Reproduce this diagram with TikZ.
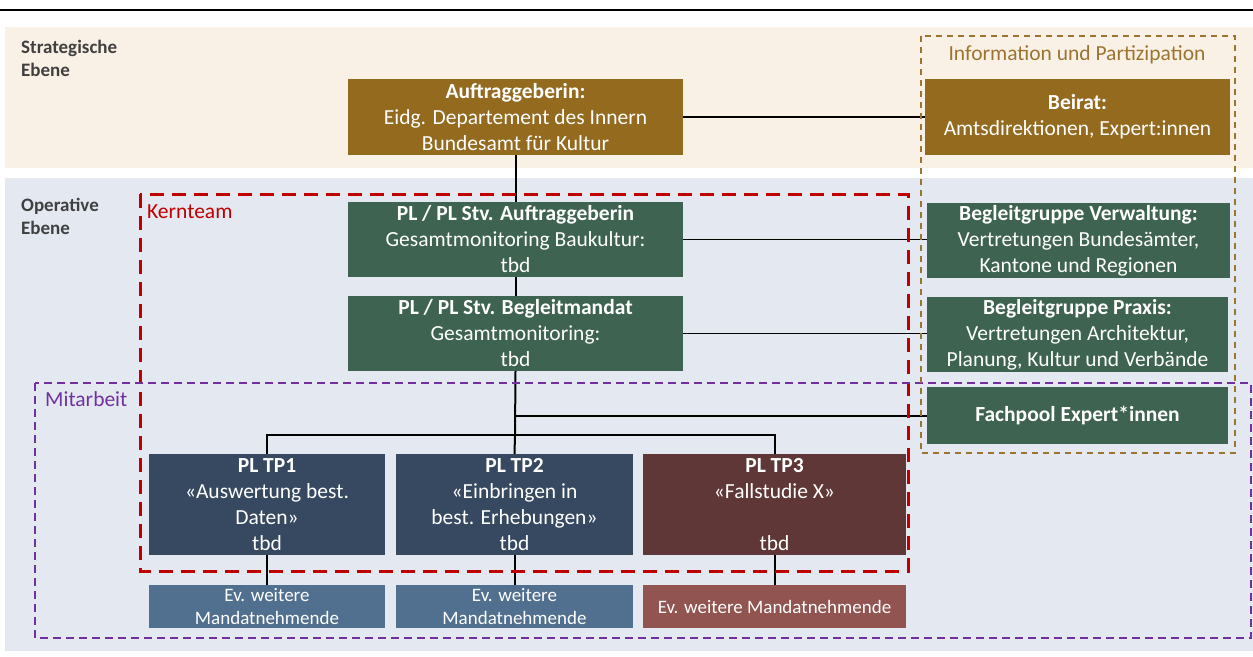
\documentclass[tikz,border=0pt]{standalone}
\usepackage{fontspec}
\setmainfont{Carlito}
\definecolor{bandA}{HTML}{FAF1E6}
\definecolor{bandB}{HTML}{E4E9F1}
\definecolor{gold}{HTML}{946A1F}
\definecolor{grn}{HTML}{3F6351}
\definecolor{navy}{HTML}{374960}
\definecolor{maroon}{HTML}{5E3736}
\definecolor{evblue}{HTML}{51708F}
\definecolor{evred}{HTML}{915450}
\definecolor{kred}{HTML}{C00000}
\definecolor{mpurple}{HTML}{7030A0}
\definecolor{ibrown}{HTML}{9C7430}
\definecolor{lgray}{HTML}{404040}
\begin{document}
\begin{tikzpicture}[x=1pt,y=-1pt,
  orgbox/.style={fill=#1, text=white, inner sep=0pt, align=center,
    font=\fontsize{21.5}{26}\selectfont},
  evbox/.style={fill=#1, text=white, inner sep=0pt, align=center,
    font=\fontsize{19}{23}\selectfont, minimum height=43pt},
  conn/.style={draw=black, line width=2pt},
  thinconn/.style={draw=black, line width=1.6pt},
  lvl/.style={anchor=north west, align=left, text=lgray, inner sep=0pt,
    font=\fontsize{19}{23}\selectfont\bfseries},
  grplabel/.style={inner sep=0pt, font=\fontsize{21.5}{25}\selectfont}
]
\useasboundingbox (0,0) rectangle (1253,656);
% bands
\fill[bandA] (5,27) rectangle (1253,168);
\fill[bandB] (5,178) rectangle (1253,651);
\draw[line width=2.5pt] (0,10) -- (1253,10);

% level labels
\node[lvl] (strat) at (21,40) {Strategische\\Ebene};
\node[lvl] (oper) at (21,198) {Operative\\Ebene};

% boxes
\node[orgbox=gold, minimum width=335pt, minimum height=76pt] (auf) at (515.5,117)
  {\textbf{Auftraggeberin:}\\Eidg. Departement des Innern\\Bundesamt für Kultur};
\node[orgbox=gold, minimum width=305pt, minimum height=76pt] (beirat) at (1077.5,117)
  {\textbf{Beirat:}\\Amtsdirektionen, Expert:innen};
\node[orgbox=grn, minimum width=335pt, minimum height=75pt] (pla) at (515.5,239.5)
  {\textbf{PL / PL Stv. Auftraggeberin}\\Gesamtmonitoring Baukultur:\\tbd};
\node[orgbox=grn, minimum width=335pt, minimum height=75pt] (plb) at (515.5,333.5)
  {\textbf{PL / PL Stv. Begleitmandat}\\Gesamtmonitoring:\\tbd};
\node[orgbox=grn, minimum width=303pt, minimum height=75pt] (bv) at (1078.5,240.5)
  {\textbf{Begleitgruppe Verwaltung:}\\Vertretungen Bundesämter,\\Kantone und Regionen};
\node[orgbox=grn, minimum width=301pt, minimum height=75pt] (bp) at (1077.5,334.5)
  {\textbf{Begleitgruppe Praxis:}\\Vertretungen Architektur,\\Planung, Kultur und Verbände};
\node[orgbox=grn, minimum width=301pt, minimum height=57pt] (fach) at (1077.5,415.5)
  {\textbf{Fachpool Expert*innen}};

\node[orgbox=navy, minimum width=236pt, minimum height=101pt] (tp1) at (267,504.5)
  {\textbf{PL TP1}\\«Auswertung best.\\Daten»\\tbd};
\node[orgbox=navy, minimum width=237pt, minimum height=101pt] (tp2) at (514.5,504.5)
  {\textbf{PL TP2}\\«Einbringen in\\best. Erhebungen»\\tbd};
\node[orgbox=maroon, minimum width=263pt, minimum height=101pt] (tp3) at (774.5,504.5)
  {\textbf{PL TP3}\\«Fallstudie X»\\\strut\\tbd};

\node[evbox=evblue, minimum width=236pt] (ev1) at (267,606.5) {Ev. weitere\\Mandatnehmende};
\node[evbox=evblue, minimum width=237pt] (ev2) at (514.5,606.5) {Ev. weitere\\Mandatnehmende};
\node[evbox=evred, minimum width=263pt] (ev3) at (774.5,606.5) {Ev. weitere Mandatnehmende};

% connectors
\coordinate (br) at (515,435);
\coordinate (fj) at (515,415.5);
\draw[conn] (auf.east) -- (beirat.west);
\draw[conn] (auf.south) -- (pla.north);
\draw[thinconn] (pla.east) -- (pla.east -| bv.west);
\draw[conn] (pla.south) -- (plb.north);
\draw[thinconn] (plb.east) -- (plb.east -| bp.west);
\draw[conn] (plb.south) -- (br);
\draw[conn] (fj) -- (fach.west);
\draw[conn] (tp1.north) |- (br) -| (tp3.north);
\draw[conn] (br) -- (tp2.north);
\draw[conn] (tp1.south) -- (ev1.north);
\draw[conn] (tp2.south) -- (ev2.north);
\draw[conn] (tp3.south) -- (ev3.north);

% dashed groups
\draw[kred, line width=3pt, dash pattern=on 14pt off 8pt] (140,194) rectangle (908,571);
\node[grplabel, anchor=base west, text=kred] (kt) at (147,218) {Kernteam};
\draw[mpurple, line width=2pt, dash pattern=on 8pt off 5pt] (35,383) rectangle (1251,638);
\node[grplabel, anchor=base west, text=mpurple] (mit) at (45,406) {Mitarbeit};
\draw[ibrown, line width=2pt, dash pattern=on 6pt off 5pt] (921,36) rectangle (1235,453);
\node[grplabel, anchor=base, text=ibrown] (info) at (1077,60) {Information und Partizipation};
\end{tikzpicture}
\end{document}
